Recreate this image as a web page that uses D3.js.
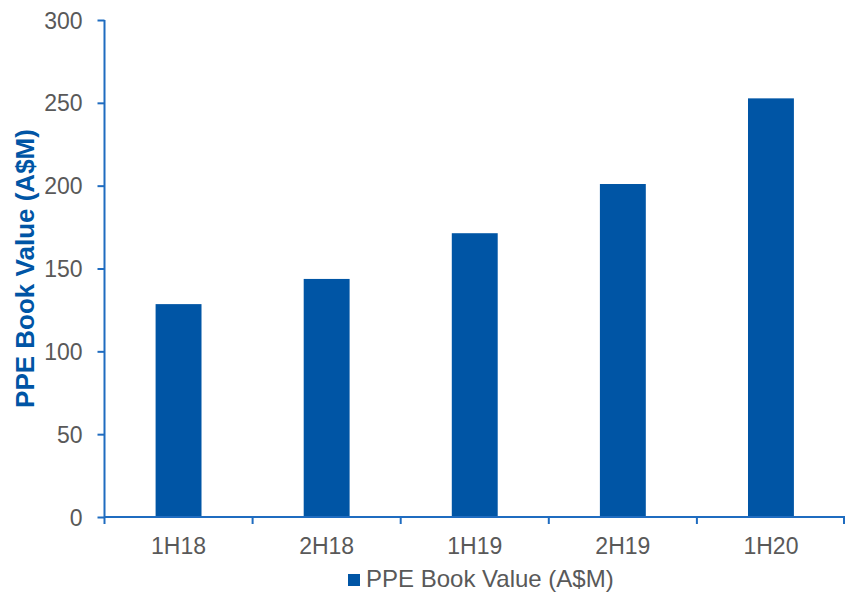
<!DOCTYPE html>
<html>
<head>
<meta charset="utf-8">
<script src="https://cdn.jsdelivr.net/npm/d3@7"></script>
<style>
  body { margin: 0; background: #fff; }
  svg { display: block; font-family: "Liberation Sans", Arial, sans-serif; }
</style>
</head>
<body>
<div id="container"></div>
<script>
let w = 845;
let h = 594;

// chart data
let periods = ["1H18", "2H18", "1H19", "2H19", "1H20"];
let ppeValues = [128.5, 143.7, 171.3, 201.0, 252.7];
let yTicks = [0, 50, 100, 150, 200, 250, 300];
let seriesName = "PPE Book Value (A$M)";

let barColor = "#0055A5";
let axisColor = "#1F6CC0";
let textColor = "#595959";

let plotLeft = 104.5;
let plotRight = 845;
let plotTop = 20;
let plotBottom = 517;

let viz = d3.select("#container")
  .append("svg")
    .attr("width", w)
    .attr("height", h)
    .style("background-color", "white");

let xScale = d3.scaleBand().domain(periods).range([plotLeft, plotRight]).padding(0);
let yScale = d3.scaleLinear().domain([0, 300]).range([plotBottom, plotTop]);

// bars, about 31% of each band
let barW = xScale.bandwidth() * 0.31;
viz.append("g").selectAll("rect")
  .data(periods)
  .enter()
  .append("rect")
    .attr("x", (d) => xScale(d) + xScale.bandwidth() / 2 - barW / 2)
    .attr("y", (d, i) => yScale(ppeValues[i]))
    .attr("width", barW)
    .attr("height", (d, i) => plotBottom - yScale(ppeValues[i]))
    .attr("fill", barColor);

// y axis
let yAxis = d3.axisLeft(yScale).tickValues(yTicks).tickSize(7).tickPadding(15);
let yAxisGroup = viz.append("g").attr("class", "yaxis")
  .attr("transform", "translate(" + plotLeft + ",0)")
  .call(yAxis);
yAxisGroup.select(".domain").attr("stroke", axisColor).attr("stroke-width", 2)
  .attr("d", "M0," + plotTop + "V" + plotBottom);
yAxisGroup.selectAll(".tick line").attr("stroke", axisColor).attr("stroke-width", 2);
yAxisGroup.selectAll(".tick text")
  .attr("fill", textColor)
  .style("font-size", "23px")
  .attr("dy", "0.35em");

// x axis with ticks on band edges
let xAxis = d3.axisBottom(xScale).tickSize(0).tickPadding(20);
let xAxisGroup = viz.append("g").attr("class", "xaxis")
  .attr("transform", "translate(0," + plotBottom + ")")
  .call(xAxis);
xAxisGroup.select(".domain").attr("stroke", axisColor).attr("stroke-width", 2)
  .attr("d", "M" + plotLeft + ",0H" + plotRight);
xAxisGroup.selectAll(".tick text")
  .attr("fill", textColor)
  .style("font-size", "23px")
  .attr("y", 0)
  .attr("dy", 37);
let edges = periods.map((d) => xScale(d)).concat([plotRight]);
xAxisGroup.selectAll(".edge")
  .data(edges)
  .enter()
  .append("line")
    .attr("class", "edge")
    .attr("x1", (d) => Math.min(d, plotRight - 1))
    .attr("x2", (d) => Math.min(d, plotRight - 1))
    .attr("y1", 0)
    .attr("y2", 7)
    .attr("stroke", axisColor)
    .attr("stroke-width", 2);

// y axis title
viz.append("text")
  .attr("transform", "translate(34," + ((plotTop + plotBottom) / 2) + ") rotate(-90)")
  .attr("text-anchor", "middle")
  .attr("fill", barColor)
  .style("font-size", "26px")
  .style("font-weight", "bold")
  .text(seriesName);

// legend
let legend = viz.append("g").attr("transform", "translate(348,574)");
legend.append("rect")
  .attr("width", 12)
  .attr("height", 12)
  .attr("fill", barColor);
legend.append("text")
  .attr("x", 18)
  .attr("y", 13)
  .attr("fill", textColor)
  .style("font-size", "24px")
  .text(seriesName);
</script>
</body>
</html>
